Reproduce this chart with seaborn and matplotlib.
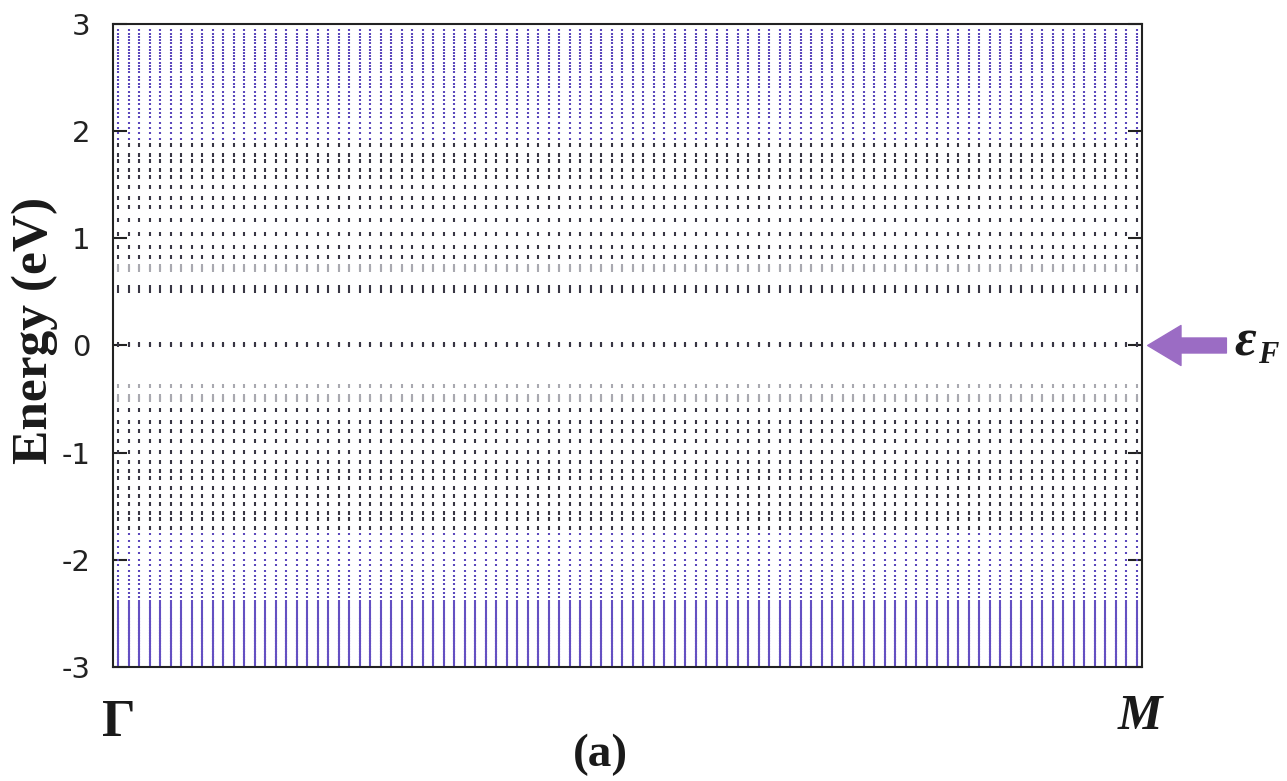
import seaborn as sns
import pandas as pd
import matplotlib.pyplot as plt
import numpy as np

# k-points along Gamma -> M (one column of dots per k-point)
n_k = 98
k_index = np.arange(n_k)

# flat band energies (eV)
fermi_levels = [0.0, 0.018]
upper_mid = [0.51, 0.55, 0.83, 0.92, 1.04, 1.17, 1.29, 1.38, 1.48, 1.57, 1.64,
             1.72, 1.78, 1.87]
upper_edge = [1.93, 1.98, 2.03, 2.08, 2.13, 2.17, 2.21, 2.25, 2.29, 2.33, 2.37,
              2.41, 2.44, 2.48, 2.51, 2.55, 2.58, 2.61, 2.64, 2.67, 2.70, 2.73,
              2.76, 2.79, 2.82, 2.85, 2.88, 2.91, 2.94]
lower_mid = [-0.60, -0.71, -0.80, -0.89, -0.99, -1.09, -1.17, -1.24, -1.33,
             -1.40, -1.48, -1.56, -1.62, -1.70]
lower_edge = [-1.76, -1.82, -1.88, -1.94, -2.00, -2.05, -2.10, -2.15, -2.19,
              -2.23, -2.27, -2.31, -2.35]
lower_dense = [-2.39, -2.43, -2.46, -2.50, -2.53, -2.56, -2.59, -2.62, -2.645,
               -2.67, -2.695, -2.72, -2.745, -2.77, -2.795, -2.82, -2.845, -2.87,
               -2.895, -2.92, -2.945, -2.97]
smear_levels = [0.70, 0.72, 0.74, -0.38, -0.47, -0.49, -0.51]

rows = []
for group, levels in [("mid", fermi_levels + upper_mid + lower_mid),
                      ("edge", upper_edge + lower_edge),
                      ("dense", lower_dense),
                      ("smear", smear_levels)]:
    for e in levels:
        for k in k_index:
            rows.append((k, e, group))
bands = pd.DataFrame(rows, columns=["k", "E", "group"])

palette = {"mid": "#383644", "edge": "#5c48bc", "dense": "#6450c2",
           "smear": "#a9a9b0"}
msize = {"mid": 5.5, "edge": 4.6, "dense": 5.2, "smear": 5.5}

sns.set_style("white")
plt.rcParams["axes.unicode_minus"] = False
plt.rcParams["font.family"] = ["DejaVu Sans"]

fig = plt.figure(figsize=(12.87, 7.81), dpi=100)
ax = fig.add_axes([113 / 1287, 1 - 667 / 781, 1029 / 1287, 643 / 781])

for g in ["smear", "mid", "edge", "dense"]:
    sub = bands[bands["group"] == g]
    sns.scatterplot(data=sub, x="k", y="E", marker="|", s=msize[g], linewidth=1.5,
                    color=palette[g], ax=ax, legend=False)

ax.set_xlim(-0.5, n_k - 0.5)
ax.set_ylim(-3, 3)
ax.set_yticks([-3, -2, -1, 0, 1, 2, 3])
ax.set_yticklabels(["-3", "-2", "-1", "0", "1", "2", "3"])
ax.set_xticks([])
ax.set_xlabel("")
ax.set_ylabel("")
ax.tick_params(axis="y", direction="in", length=10, width=1.5, labelsize=21,
               pad=16, right=True, left=True, colors="#222222")
for sp in ax.spines.values():
    sp.set_color("#222222")
    sp.set_linewidth(1.5)

serif = "Liberation Serif"
fig.text(35 / 1287, 1 - 330 / 781, "Energy (eV)", rotation=90, ha="center",
         va="center", family=serif, weight="bold", fontsize=37, color="#1a1a1a")
fig.text(119 / 1287, 1 - 723 / 781, "Γ", ha="center", va="center",
         family=serif, weight="bold", fontsize=38, color="#1a1a1a")
fig.text(1140 / 1287, 1 - 717 / 781, "M", ha="center", va="center",
         family=serif, weight="bold", style="italic", fontsize=36, color="#1a1a1a")
fig.text(600 / 1287, 1 - 755 / 781, "(a)", ha="center", va="center",
         family=serif, weight="bold", fontsize=34, color="#1a1a1a")

# Fermi level marker
ax.annotate("", xy=(1.0055, 0), xytext=(1.082, 0),
            xycoords=("axes fraction", "data"), textcoords=("axes fraction", "data"),
            arrowprops=dict(arrowstyle="simple,head_length=1.0,head_width=1.2,tail_width=0.45",
                            color="#9b6cc4", mutation_scale=24, shrinkA=0, shrinkB=0),
            annotation_clip=False)
fig.text(1234 / 1287, 1 - 343 / 781, "ε", ha="left", va="center",
         family=serif, weight="bold", style="italic", fontsize=38, color="#1a1a1a")
fig.text(1258 / 1287, 1 - 356 / 781, "F", ha="left", va="center",
         family=serif, weight="bold", style="italic", fontsize=22, color="#1a1a1a")

fig.savefig("out.png", dpi=100)
